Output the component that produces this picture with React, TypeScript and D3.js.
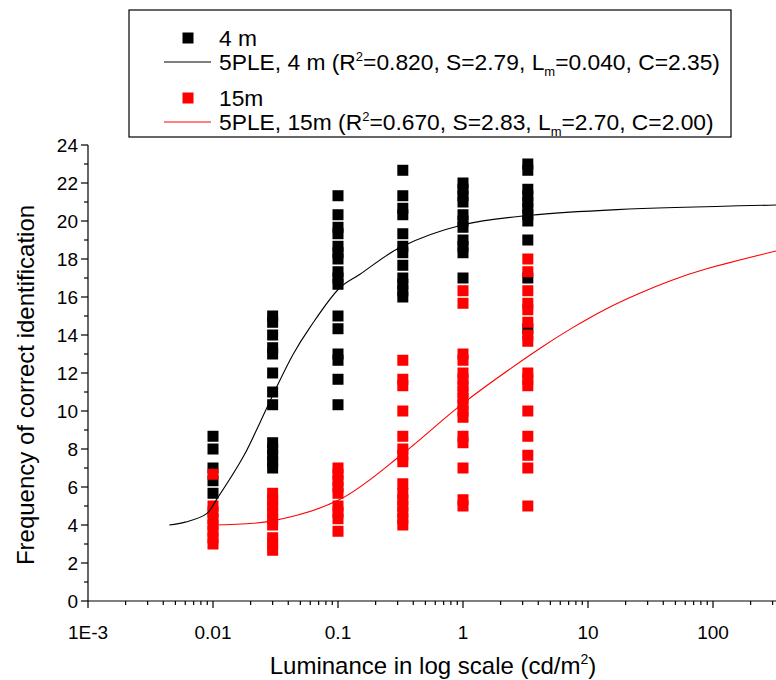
import React from 'react';
import * as d3 from 'd3';

// Luminance levels (cd/m²) of the measured columns
const luminance = [0.01, 0.03, 0.1, 0.33, 1, 3.3];

// Frequency of correct identification, 4 m (one list per luminance level)
const freq4m: number[][] = [
  [8.67, 8.0, 7.0, 6.33, 5.67],
  [15.0, 14.67, 14.0, 13.33, 13.0, 12.0, 11.0, 10.33, 8.33, 8.0, 7.67, 7.33, 7.0],
  [21.33, 20.33, 19.67, 19.33, 18.67, 18.33, 18.0, 17.33, 17.0, 16.67, 15.0, 14.33, 13.0, 12.67, 11.67, 10.33],
  [22.67, 21.33, 20.67, 20.33, 19.33, 18.67, 18.33, 17.67, 17.0, 16.67, 16.33, 16.0],
  [22.0, 21.67, 21.33, 21.0, 20.33, 20.0, 19.67, 19.0, 18.67, 18.33, 17.0],
  [23.0, 22.67, 21.67, 21.33, 21.0, 20.67, 20.33, 20.0, 19.0, 17.0, 14.33],
];

// Frequency of correct identification, 15 m
const freq15m: number[][] = [
  [6.67, 5.0, 4.67, 4.33, 4.0, 3.67, 3.33, 3.0],
  [5.67, 5.33, 5.0, 4.67, 4.33, 4.0, 3.33, 3.0, 2.67],
  [7.0, 6.67, 6.33, 6.0, 5.67, 5.0, 4.67, 4.33, 3.67],
  [12.67, 11.67, 11.33, 10.0, 8.67, 8.0, 7.67, 7.33, 6.17, 5.67, 5.33, 5.0, 4.67, 4.33, 4.0],
  [16.33, 15.67, 13.0, 12.67, 12.0, 11.67, 11.33, 11.0, 10.67, 10.33, 10.0, 9.67, 8.67, 8.33, 7.0, 5.33, 5.0],
  [18.0, 17.33, 16.33, 15.67, 15.33, 14.67, 14.0, 13.67, 12.0, 11.67, 11.33, 10.0, 8.67, 7.67, 7.0, 5.0],
];

// 5PLE fitted curves
const fit4mX = [0.00447, 0.006, 0.0089, 0.0107, 0.0175, 0.0238, 0.0304, 0.0439, 0.0597, 0.104, 0.15, 0.313, 1.0, 3.44, 17.1, 319];
const fit4mY = [4.0, 4.15, 4.6, 5.35, 7.6, 9.4, 10.9, 13.0, 14.4, 16.5, 17.2, 18.6, 19.8, 20.3, 20.6, 20.84];
const fit15mX = [0.01, 0.0304, 0.104, 0.337, 1.0, 4.14, 7.6, 14.2, 25.9, 47.6, 87.6, 319];
const fit15mY = [4.0, 4.23, 5.35, 7.8, 10.4, 13.3, 14.4, 15.4, 16.2, 16.9, 17.47, 18.42];

const xTickValues = [0.001, 0.01, 0.1, 1, 10, 100];
const xTickLabels = ['1E-3', '0.01', '0.1', '1', '10', '100'];
const yTickValues = [0, 2, 4, 6, 8, 10, 12, 14, 16, 18, 20, 22, 24];

const W = 776;
const H = 680;
const FONT = 'Liberation Sans, Arial, sans-serif';

export default function App() {
  const x = d3.scaleLog().domain([1e-3, 1e3]).range([88, 838]);
  const y = d3.scaleLinear().domain([0, 24]).range([601, 145]);
  const xMax = 776;
  const x0 = x(1e-3);
  const y0 = y(0);
  const sq = 11;

  const minorX: number[] = [];
  for (let e = -3; e <= 2; e++) {
    for (let m = 2; m <= 9; m++) {
      const v = m * Math.pow(10, e);
      if (x(v) <= xMax) minorX.push(v);
    }
  }
  const minorY = d3.range(1, 24, 2);

  const line = d3
    .line<[number, number]>()
    .x((d) => x(d[0]))
    .y((d) => y(d[1]))
    .curve(d3.curveCatmullRom.alpha(0.5));

  const fit4m = fit4mX.map((v, i) => [v, fit4mY[i]] as [number, number]);
  const fit15m = fit15mX.map((v, i) => [v, fit15mY[i]] as [number, number]);

  const pts = (data: number[][]) =>
    data.flatMap((col, i) => col.map((v) => ({ lx: luminance[i], v })));

  const legendX = 129;
  const legendY = 10;
  const rows = [38, 62, 98, 122];
  const textX = 219;
  const LF = 22.8;

  return (
    <svg
      width={W}
      height={H}
      style={{ position: 'absolute', left: 0, top: 0, background: '#fff' }}
      fontFamily={FONT}
    >
      <rect x={0} y={0} width={W} height={H} fill="#fff" />
      <defs>
        <clipPath id="plotClip">
          <rect x={x0} y={0} width={xMax - x0} height={y0 + 1} />
        </clipPath>
      </defs>

      {/* Points */}
      {pts(freq4m).map((p, i) => (
        <rect key={'b' + i} x={x(p.lx) - sq / 2} y={y(p.v) - sq / 2} width={sq} height={sq} fill="#000" />
      ))}
      {pts(freq15m).map((p, i) => (
        <rect key={'r' + i} x={x(p.lx) - sq / 2} y={y(p.v) - sq / 2} width={sq} height={sq} fill="#ff0000" />
      ))}

      {/* Fit curves */}
      <g clipPath="url(#plotClip)">
        <path d={line(fit4m) || ''} fill="none" stroke="#000" strokeWidth={1.1} />
        <path d={line(fit15m) || ''} fill="none" stroke="#ff0000" strokeWidth={1.1} />
      </g>

      {/* Y axis */}
      <line x1={x0} x2={x0} y1={y(24)} y2={y0} stroke="#000" strokeWidth={1.2} />
      {yTickValues.map((v) => (
        <g key={'yt' + v}>
          <line x1={x0 - 7} x2={x0} y1={y(v)} y2={y(v)} stroke="#000" strokeWidth={1.2} />
          <text x={x0 - 10} y={y(v)} dy="0.36em" textAnchor="end" fontSize={19} fill="#000">
            {v}
          </text>
        </g>
      ))}
      {minorY.map((v) => (
        <line key={'ym' + v} x1={x0 - 4} x2={x0} y1={y(v)} y2={y(v)} stroke="#000" strokeWidth={1.2} />
      ))}

      {/* X axis */}
      <line x1={x0} x2={xMax} y1={y0} y2={y0} stroke="#000" strokeWidth={1.2} />
      {xTickValues.map((v, i) => (
        <g key={'xt' + v}>
          <line x1={x(v)} x2={x(v)} y1={y0} y2={y0 + 7} stroke="#000" strokeWidth={1.2} />
          <text x={x(v)} y={y0 + 38} textAnchor="middle" fontSize={19} fill="#000">
            {xTickLabels[i]}
          </text>
        </g>
      ))}
      {minorX.map((v) => (
        <line key={'xm' + v} x1={x(v)} x2={x(v)} y1={y0} y2={y0 + 4} stroke="#000" strokeWidth={1.2} />
      ))}

      {/* Axis titles */}
      <text x={433} y={674} textAnchor="middle" fontSize={24} fill="#000">
        Luminance in log scale (cd/m
        <tspan dy={-10} fontSize={14}>2</tspan>
        <tspan dy={10}>)</tspan>
      </text>
      <text
        transform={`translate(34, ${y(12) + 12}) rotate(-90)`}
        textAnchor="middle"
        fontSize={24}
        fill="#000"
      >
        Frequency of correct identification
      </text>

      {/* Legend */}
      <rect x={legendX} y={legendY} width={602} height={127} fill="#fff" stroke="#000" strokeWidth={1.2} />
      <rect x={188 - sq / 2} y={rows[0] - sq / 2} width={sq} height={sq} fill="#000" />
      <text x={textX} y={rows[0]} dy="0.36em" fontSize={LF} fill="#000">4 m</text>
      <line x1={164} x2={211} y1={rows[1]} y2={rows[1]} stroke="#000" strokeWidth={1.1} />
      <text x={textX} y={rows[1]} dy="0.36em" fontSize={LF} fill="#000">
        5PLE, 4 m (R<tspan dy={-9} fontSize={13}>2</tspan>
        <tspan dy={9}>=0.820, S=2.79, L</tspan>
        <tspan dy={6} fontSize={13}>m</tspan>
        <tspan dy={-6}>=0.040, C=2.35)</tspan>
      </text>
      <rect x={188 - sq / 2} y={rows[2] - sq / 2} width={sq} height={sq} fill="#ff0000" />
      <text x={textX} y={rows[2]} dy="0.36em" fontSize={LF} fill="#000">15m</text>
      <line x1={164} x2={211} y1={rows[3]} y2={rows[3]} stroke="#ff0000" strokeWidth={1.1} />
      <text x={textX} y={rows[3]} dy="0.36em" fontSize={LF} fill="#000">
        5PLE, 15m (R<tspan dy={-9} fontSize={13}>2</tspan>
        <tspan dy={9}>=0.670, S=2.83, L</tspan>
        <tspan dy={6} fontSize={13}>m</tspan>
        <tspan dy={-6}>=2.70, C=2.00)</tspan>
      </text>
    </svg>
  );
}
